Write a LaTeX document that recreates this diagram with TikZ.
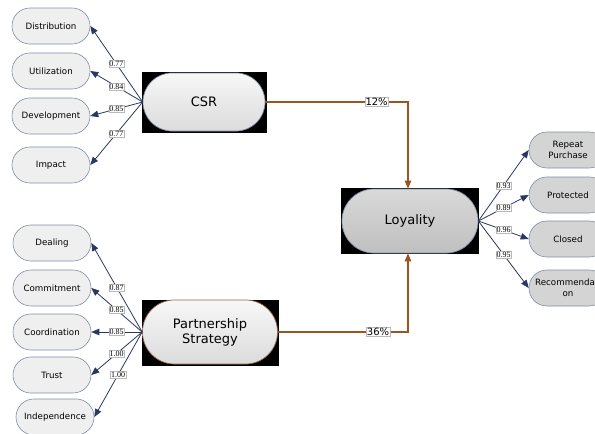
\documentclass[tikz,border=0pt]{standalone}
\usepackage{fontspec}
\setmainfont{DejaVu Sans}
\newfontfamily\lblfont{Liberation Serif}
\usetikzlibrary{arrows.meta}
\definecolor{bordc}{HTML}{7F8CA6}
\definecolor{lightf}{HTML}{EFEFEF}
\definecolor{darkf}{HTML}{D4D4D4}
\definecolor{navyc}{HTML}{2B3663}
\definecolor{brownc}{HTML}{9C5420}
\tikzset{
  smallbox/.style={draw=bordc, line width=0.6pt, rounded corners=17.9pt, minimum width=78pt, minimum height=36pt, inner sep=0pt, fill=lightf, font=\fontsize{8.7}{10.5}\selectfont, align=center},
  rsmallbox/.style={smallbox, fill=darkf},
  bigbox/.style={draw=bordc, line width=0.7pt, inner sep=0pt, align=center, font=\fontsize{13}{15}\selectfont},
  bgbox/.style={fill=black, draw=none, inner sep=0pt},
  lbl/.style={fill=white, draw=gray!55, line width=0.3pt, inner sep=0.7pt, font=\lblfont\fontsize{8}{8}\selectfont},
  plbl/.style={fill=white, draw=gray!55, line width=0.3pt, inner sep=0.8pt, font=\fontsize{10}{10}\selectfont},
  arr/.style={draw=navyc, line width=0.8pt, -{Triangle[length=8pt,width=6.5pt]}},
  barr/.style={draw=brownc, line width=1.1pt, -{Triangle[length=8pt,width=6.5pt]}}
}
\begin{document}
\begin{tikzpicture}[x=1pt, y=-1pt]
\useasboundingbox (0,0) rectangle (595,434);
\clip (0,0) rectangle (595,434);
% black backgrounds
\node[bgbox, minimum width=125pt, minimum height=61pt] (csrbg) at (204.5,102.5) {};
\node[bgbox, minimum width=137pt, minimum height=66pt] (psbg) at (210.5,333) {};
\node[bgbox, minimum width=138pt, minimum height=66pt] (loybg) at (410,221) {};
% big nodes
\node[bigbox, rounded corners=28.9pt, minimum width=122pt, minimum height=58pt, top color=white!97!black, bottom color=white!86!black] (csr) at (204,102) {CSR};
\node[bigbox, draw=brownc!70!bordc, rounded corners=31.9pt, minimum width=135pt, minimum height=64pt, top color=white!97!black, bottom color=white!86!black] (ps) at (210,332) {Partnership\\Strategy};
\node[bigbox, rounded corners=31.9pt, minimum width=136pt, minimum height=64pt, top color=white!85!black, bottom color=white!75!black] (loy) at (410,221) {Loyality};
% left small nodes
\node[smallbox] (dist) at (51,26) {Distribution};
\node[smallbox] (util) at (51,71) {Utilization};
\node[smallbox] (dev) at (51,116) {Development};
\node[smallbox] (imp) at (51,165) {Impact};
\node[smallbox] (deal) at (52,243) {Dealing};
\node[smallbox] (comm) at (52,288) {Commitment};
\node[smallbox] (coord) at (52,332) {Coordination};
\node[smallbox] (trust) at (52,375) {Trust};
\node[smallbox] (indep) at (55,417) {Independence};
% right nodes
\node[rsmallbox] (rp) at (568,150) {Repeat\\Purchase};
\node[rsmallbox] (prot) at (568,195) {Protected};
\node[rsmallbox] (clos) at (568,239) {Closed};
\node[rsmallbox] (rec) at (568,288) {Recommendati\\on};
% CSR arrows
\draw[arr] (csr.west) -- node[lbl, pos=0.5] {0.77} (dist.east);
\draw[arr] (csr.west) -- node[lbl, pos=0.5] {0.84} (util.east);
\draw[arr] (csr.west) -- node[lbl, pos=0.5] {0.85} (dev.east);
\draw[arr] (csr.west) -- node[lbl, pos=0.5] {0.77} (imp.east);
% PS arrows
\draw[arr] (ps.west) -- node[lbl, pos=0.5] {0.87} (deal.east);
\draw[arr] (ps.west) -- node[lbl, pos=0.5] {0.85} (comm.east);
\draw[arr] (ps.west) -- node[lbl, pos=0.5] {0.85} (coord.east);
\draw[arr] (ps.west) -- node[lbl, pos=0.5] {1.00} (trust.east);
\draw[arr] (ps.west) -- node[lbl, pos=0.5] {1.00} (indep.east);
% Loyalty arrows
\draw[arr] (loy.east) -- node[lbl, pos=0.5] {0.93} (rp.west);
\draw[arr] (loy.east) -- node[lbl, pos=0.5] {0.89} (prot.west);
\draw[arr] (loy.east) -- node[lbl, pos=0.5] {0.96} (clos.west);
\draw[arr] (loy.east) -- node[lbl, pos=0.5] {0.95} (rec.west);
% structural paths
\draw[barr] (csr.east) -| node[plbl, pos=0.39] {12\%} ([xshift=-2pt]loy.north);
\draw[barr] (ps.east) -| node[plbl, pos=0.385] {36\%} ([xshift=-2pt]loy.south);
\end{tikzpicture}
\end{document}
